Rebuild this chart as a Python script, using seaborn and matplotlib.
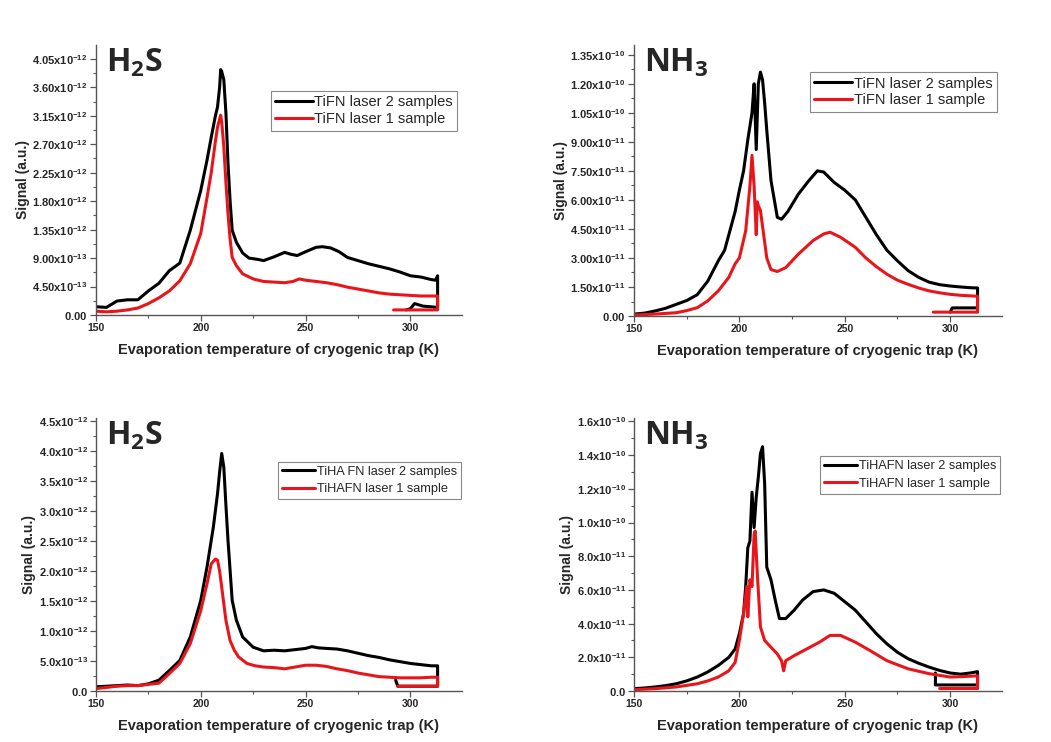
import numpy as np
import pandas as pd
import matplotlib
matplotlib.use("Agg")
import matplotlib.pyplot as plt
from matplotlib.ticker import AutoMinorLocator
import seaborn as sns

# ---- panel A: H2S, TiFN (signal in 1e-12) ----
h2s_tifn_T2 = [150, 155, 160, 165, 170, 175, 180, 185, 190, 195, 200, 203, 205, 207, 208, 209, 209.5, 210, 211, 212,
               213, 214, 215, 217, 220, 223, 227, 230, 235, 240, 243, 246, 250, 255, 258, 262, 266, 270, 275, 280,
               285, 290, 295, 300, 305, 310, 312, 313, 313, 306, 302, 300, 298]
h2s_tifn_S2 = [0.13, 0.12, 0.22, 0.24, 0.24, 0.38, 0.50, 0.70, 0.82, 1.34, 1.97, 2.45, 2.81, 3.15, 3.29, 3.60, 3.88, 3.85, 3.72, 3.20,
               2.40, 1.80, 1.34, 1.15, 0.98, 0.90, 0.88, 0.86, 0.92, 0.99, 0.96, 0.94, 1.00, 1.07, 1.08, 1.06, 1.00, 0.91, 0.86, 0.81,
               0.77, 0.73, 0.68, 0.62, 0.60, 0.56, 0.55, 0.62, 0.12, 0.14, 0.18, 0.10, 0.08]
h2s_tifn_T1 = [150, 155, 160, 165, 170, 175, 180, 185, 190, 195, 200, 203, 205, 206, 207, 208, 209, 209.5, 210, 211,
               212, 213, 214, 215, 217, 220, 225, 230, 235, 240, 244, 247, 250, 255, 260, 265, 270, 275, 280, 285,
               290, 295, 300, 305, 310, 313, 313, 300, 292]
h2s_tifn_S1 = [0.06, 0.05, 0.06, 0.08, 0.11, 0.18, 0.27, 0.38, 0.54, 0.81, 1.29, 1.86, 2.25, 2.50, 2.75, 2.97, 3.10, 3.16, 3.05, 2.66,
               2.10, 1.60, 1.20, 0.91, 0.78, 0.65, 0.57, 0.53, 0.52, 0.51, 0.53, 0.57, 0.55, 0.53, 0.51, 0.48, 0.44, 0.41, 0.38, 0.35,
               0.33, 0.32, 0.31, 0.30, 0.30, 0.30, 0.08, 0.08, 0.08]

# ---- panel B: NH3, TiFN (signal in 1e-11) ----
nh3_tifn_T2 = [150, 155, 160, 165, 170, 175, 180, 185, 190, 193, 195, 198, 200, 202, 204, 206, 207, 208, 209, 210,
               211, 212, 213, 215, 218, 220, 223, 228, 233, 237, 240, 245, 250, 255, 260, 265, 270, 275, 280, 285,
               290, 295, 300, 305, 310, 313, 313, 301, 300]
nh3_tifn_S2 = [0.10, 0.15, 0.26, 0.40, 0.60, 0.80, 1.10, 1.80, 2.85, 3.40, 4.20, 5.40, 6.50, 7.50, 9.10, 10.5, 12.0, 8.60, 12.0, 12.6,
               12.2, 11.0, 9.60, 7.00, 5.10, 5.00, 5.40, 6.30, 7.00, 7.50, 7.44, 6.90, 6.50, 6.00, 5.10, 4.20, 3.40, 2.85, 2.35, 2.00,
               1.75, 1.62, 1.55, 1.50, 1.46, 1.45, 0.42, 0.42, 0.20]
nh3_tifn_T1 = [150, 160, 170, 175, 180, 185, 190, 195, 198, 200, 203, 205, 206, 207, 208, 208.5, 209, 210, 213, 215,
               218, 222, 228, 235, 240, 243, 248, 255, 260, 265, 270, 275, 280, 285, 290, 295, 300, 305, 310, 313,
               313, 292]
nh3_tifn_S1 = [0.05, 0.10, 0.17, 0.28, 0.43, 0.78, 1.30, 2.00, 2.70, 3.00, 4.40, 6.70, 8.30, 6.70, 4.20, 5.90, 5.70, 5.45, 3.00, 2.40,
               2.30, 2.50, 3.20, 3.90, 4.24, 4.33, 4.07, 3.55, 3.00, 2.55, 2.16, 1.85, 1.64, 1.45, 1.30, 1.20, 1.12, 1.07, 1.04, 1.02,
               0.20, 0.20]

# ---- panel C: H2S, TiHAFN (signal in 1e-12) ----
h2s_tihafn_T2 = [150, 155, 160, 165, 170, 175, 180, 185, 190, 195, 200, 203, 206, 208, 209, 210, 211, 212, 213, 215,
                 217, 220, 225, 230, 235, 240, 245, 250, 253, 256, 260, 265, 270, 275, 280, 285, 290, 295, 300, 305,
                 310, 313, 313, 294, 293]
h2s_tihafn_S2 = [0.07, 0.08, 0.09, 0.10, 0.09, 0.12, 0.18, 0.34, 0.51, 0.90, 1.51, 2.07, 2.73, 3.29, 3.65, 3.96, 3.73, 3.10, 2.51, 1.51,
                 1.18, 0.90, 0.73, 0.67, 0.68, 0.67, 0.69, 0.71, 0.74, 0.72, 0.71, 0.70, 0.67, 0.63, 0.59, 0.56, 0.52, 0.49, 0.46, 0.44,
                 0.42, 0.42, 0.08, 0.08, 0.18]
h2s_tihafn_T1 = [150, 155, 160, 165, 170, 175, 180, 185, 190, 195, 200, 203, 205, 207, 208, 209, 210, 212, 214, 216,
                 218, 222, 226, 230, 235, 240, 245, 250, 255, 260, 265, 270, 275, 280, 285, 290, 295, 300, 305, 310,
                 313, 313, 294]
h2s_tihafn_S1 = [0.04, 0.06, 0.08, 0.09, 0.09, 0.11, 0.13, 0.29, 0.46, 0.79, 1.34, 1.79, 2.12, 2.20, 2.18, 2.00, 1.73, 1.18, 0.84, 0.68,
                 0.57, 0.46, 0.42, 0.40, 0.39, 0.37, 0.40, 0.43, 0.43, 0.41, 0.37, 0.34, 0.30, 0.27, 0.24, 0.23, 0.22, 0.22, 0.22, 0.23,
                 0.23, 0.08, 0.08]

# ---- panel D: NH3, TiHAFN (signal in 1e-11) ----
nh3_tihafn_T2 = [150, 155, 160, 165, 170, 175, 180, 185, 190, 195, 198, 200, 202, 203, 204, 205, 206, 207, 208, 209,
                 210, 211, 212, 213, 215, 217, 219, 222, 226, 230, 235, 240, 245, 250, 255, 260, 265, 270, 275, 280,
                 285, 290, 295, 300, 305, 310, 313, 313, 293, 293]
nh3_tihafn_S2 = [0.14, 0.18, 0.24, 0.32, 0.43, 0.60, 0.83, 1.13, 1.52, 2.00, 2.50, 3.40, 4.60, 6.20, 8.50, 8.90, 11.8, 9.70, 11.5, 12.7,
                 14.1, 14.5, 12.3, 7.35, 6.60, 5.40, 4.30, 4.30, 4.80, 5.40, 5.90, 6.00, 5.80, 5.30, 4.80, 4.10, 3.40, 2.80, 2.30, 1.92,
                 1.65, 1.42, 1.22, 1.07, 1.00, 1.08, 1.15, 0.36, 0.36, 1.07]
nh3_tihafn_T1 = [150, 160, 170, 180, 185, 190, 195, 198, 200, 202, 203.5, 204, 205, 206, 207, 207.5, 208.5, 210, 212, 215,
                 218, 220, 221, 222, 226, 232, 238, 243, 248, 255, 262, 270, 280, 290, 300, 305, 310, 313, 313, 295]
nh3_tihafn_S1 = [0.08, 0.14, 0.24, 0.43, 0.60, 0.83, 1.20, 1.70, 3.00, 4.60, 6.20, 4.40, 6.60, 6.20, 9.30, 9.50, 7.00, 3.80, 3.00, 2.60,
                 2.20, 1.80, 1.20, 1.80, 2.10, 2.50, 2.90, 3.30, 3.30, 2.90, 2.40, 1.80, 1.32, 1.03, 0.83, 0.85, 0.88, 0.90, 0.15, 0.15]

# tick labels
yt_a = [0, 0.45, 0.90, 1.35, 1.80, 2.25, 2.70, 3.15, 3.60, 4.05]
yl_a = ["0.00", "4.50x10^{-13}", "9.00x10^{-13}", "1.35x10^{-12}", "1.80x10^{-12}", "2.25x10^{-12}",
        "2.70x10^{-12}", "3.15x10^{-12}", "3.60x10^{-12}", "4.05x10^{-12}"]
yt_b = [0, 1.5, 3.0, 4.5, 6.0, 7.5, 9.0, 10.5, 12.0, 13.5]
yl_b = ["0.00", "1.50x10^{-11}", "3.00x10^{-11}", "4.50x10^{-11}", "6.00x10^{-11}", "7.50x10^{-11}",
        "9.00x10^{-11}", "1.05x10^{-10}", "1.20x10^{-10}", "1.35x10^{-10}"]
yt_c = [0, 0.5, 1.0, 1.5, 2.0, 2.5, 3.0, 3.5, 4.0, 4.5]
yl_c = ["0.0", "5.0x10^{-13}", "1.0x10^{-12}", "1.5x10^{-12}", "2.0x10^{-12}", "2.5x10^{-12}",
        "3.0x10^{-12}", "3.5x10^{-12}", "4.0x10^{-12}", "4.5x10^{-12}"]
yt_d = [0, 2, 4, 6, 8, 10, 12, 14, 16]
yl_d = ["0.0", "2.0x10^{-11}", "4.0x10^{-11}", "6.0x10^{-11}", "8.0x10^{-11}", "1.0x10^{-10}",
        "1.2x10^{-10}", "1.4x10^{-10}", "1.6x10^{-10}"]
xticks = [150, 200, 250, 300]

sns.set_style("ticks")
plt.rcParams["font.family"] = ["Liberation Sans", "DejaVu Sans"]

fig = plt.figure(figsize=(10.51, 7.42), dpi=100)

panels = [
    # rect, title, T2, S2, T1, S1, unit, ytick vals, ytick labels, ymax, labels, legend anchor, legend size, row gap
    ([0.0913, 0.5755, 0.348, 0.3639], r"H$_\mathregular{2}$S", h2s_tifn_T2, h2s_tifn_S2, h2s_tifn_T1, h2s_tifn_S1,
     1e-12, yt_a, yl_a, 4.27, ["TiFN laser 2 samples", "TiFN laser 1 sample"], (0.988, 0.83), 10.5, 0.2),
    ([0.6032, 0.5741, 0.350, 0.3652], r"NH$_\mathregular{3}$", nh3_tifn_T2, nh3_tifn_S2, nh3_tifn_T1, nh3_tifn_S1,
     1e-11, yt_b, yl_b, 14.0, ["TiFN laser 2 samples", "TiFN laser 1 sample"], (0.986, 0.90), 10.5, 0.2),
    ([0.0913, 0.0687, 0.348, 0.3679], r"H$_\mathregular{2}$S", h2s_tihafn_T2, h2s_tihafn_S2, h2s_tihafn_T1, h2s_tihafn_S1,
     1e-12, yt_c, yl_c, 4.55, ["TiHA FN laser 2 samples", "TiHAFN laser 1 sample"], (0.997, 0.84), 9.2, 0.45),
    ([0.6032, 0.0687, 0.350, 0.3679], r"NH$_\mathregular{3}$", nh3_tihafn_T2, nh3_tihafn_S2, nh3_tihafn_T1, nh3_tihafn_S1,
     1e-11, yt_d, yl_d, 16.2, ["TiHAFN laser 2 samples", "TiHAFN laser 1 sample"], (0.995, 0.86), 9.2, 0.45),
]

for rect, title, T2, S2, T1, S1, unit, ytv, ytl, ymax, labels, anchor, lsize, lgap in panels:
    ax = fig.add_axes(rect)
    df = pd.concat([
        pd.DataFrame({"T": T2, "signal": np.array(S2) * unit, "series": labels[0]}),
        pd.DataFrame({"T": T1, "signal": np.array(S1) * unit, "series": labels[1]}),
    ], ignore_index=True)
    sns.lineplot(data=df, x="T", y="signal", hue="series", sort=False, estimator=None,
                 palette={labels[0]: "black", labels[1]: "#e8161b"}, linewidth=2.2, ax=ax)

    ax.set_xlim(150, 324.5)
    ax.set_ylim(0, ymax * unit)
    ax.set_xticks(xticks)
    ax.set_xticklabels([str(t) for t in xticks], fontsize=7.5, fontweight="bold")
    ax.set_yticks([v * unit for v in ytv])
    ax.set_yticklabels([r"$\mathregular{" + s + "}$" for s in ytl], fontsize=8, fontweight="bold")
    ax.xaxis.set_minor_locator(AutoMinorLocator(2))
    ax.yaxis.set_minor_locator(AutoMinorLocator(2))
    ax.tick_params(which="major", length=4, width=0.9, color="#555555", pad=2)
    ax.tick_params(which="minor", length=2.5, width=0.8, color="#555555")
    for side in ["top", "right"]:
        ax.spines[side].set_visible(False)
    for side in ["left", "bottom"]:
        ax.spines[side].set_color("#555555")
        ax.spines[side].set_linewidth(1.0)

    ax.set_xlabel("Evaporation temperature of cryogenic trap (K)", fontsize=10.5, fontweight="bold", labelpad=7)
    ax.set_ylabel("Signal (a.u.)", fontsize=10, fontweight="bold", labelpad=2)

    ax.text(0.027, 0.995, title, transform=ax.transAxes, fontsize=23, fontweight="bold",
            family=["Open Sans", "DejaVu Sans"], va="top", ha="left")

    leg = ax.legend(loc="upper right", bbox_to_anchor=anchor, fontsize=lsize, frameon=True, fancybox=False,
                    edgecolor="#888888", framealpha=1, handlelength=2.6, handletextpad=0.1,
                    borderpad=0.3, labelspacing=lgap, borderaxespad=0, title=None)
    leg.get_frame().set_linewidth(0.8)
    for line in leg.get_lines():
        line.set_linewidth(2.2)

fig.savefig("out.png", dpi=100, facecolor="white")
